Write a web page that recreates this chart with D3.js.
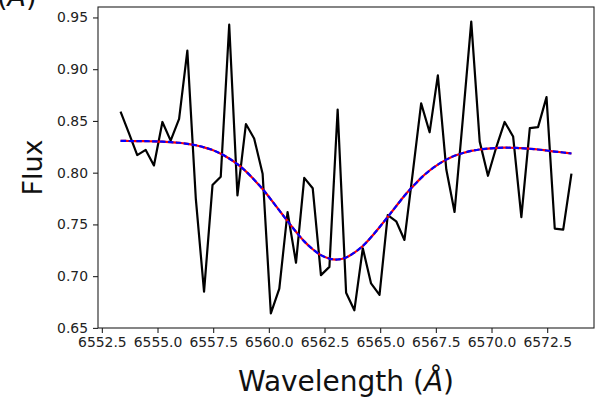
<!DOCTYPE html>
<html>
<head>
<meta charset="utf-8">
<script src="https://cdn.jsdelivr.net/npm/d3@7"></script>
<style>
  body { margin: 0; background: #fff; }
  svg { display: block; font-family: "DejaVu Sans", sans-serif; }
</style>
</head>
<body>
<div id="chart"></div>
<script>
var wavelength = [6553.34, 6553.72, 6554.09, 6554.47, 6554.84, 6555.22, 6555.59, 6555.97, 6556.34, 6556.72,
    6557.09, 6557.47, 6557.84, 6558.22, 6558.59, 6558.97, 6559.34, 6559.72, 6560.09, 6560.47,
    6560.84, 6561.22, 6561.59, 6561.97, 6562.34, 6562.72, 6563.09, 6563.47, 6563.84, 6564.22,
    6564.59, 6564.97, 6565.34, 6565.72, 6566.09, 6566.47, 6566.84, 6567.22, 6567.59, 6567.97,
    6568.34, 6568.72, 6569.09, 6569.47, 6569.84, 6570.22, 6570.59, 6570.97, 6571.34, 6571.72,
    6572.09, 6572.47, 6572.84, 6573.22, 6573.59];

var flux = [0.859, 0.838, 0.817, 0.822, 0.807, 0.849, 0.831, 0.852, 0.918, 0.775,
    0.685, 0.788, 0.796, 0.943, 0.778, 0.847, 0.833, 0.799, 0.664, 0.688,
    0.762, 0.713, 0.795, 0.785, 0.701, 0.709, 0.861, 0.684, 0.667, 0.727,
    0.693, 0.682, 0.759, 0.753, 0.735, 0.801, 0.867, 0.839, 0.894, 0.803,
    0.762, 0.854, 0.946, 0.830, 0.797, 0.825, 0.849, 0.835, 0.757, 0.843,
    0.844, 0.873, 0.746, 0.745, 0.799];

// fitted profile at the same wavelengths
var fitFlux = [0.8307, 0.8306, 0.8305, 0.8304, 0.8303, 0.8300, 0.8295, 0.8289, 0.8279, 0.8265,
    0.8245, 0.8219, 0.8183, 0.8137, 0.8082, 0.8013, 0.7931, 0.7842, 0.7742, 0.7635,
    0.7532, 0.7429, 0.7336, 0.7260, 0.7203, 0.7170, 0.7161, 0.7181, 0.7227, 0.7292,
    0.7376, 0.7473, 0.7573, 0.7677, 0.7777, 0.7867, 0.7950, 0.8021, 0.8078, 0.8126,
    0.8163, 0.8190, 0.8210, 0.8224, 0.8233, 0.8238, 0.8242, 0.8240, 0.8237, 0.8231,
    0.8224, 0.8214, 0.8204, 0.8195, 0.8185];

var xTicks = [6552.5, 6555.0, 6557.5, 6560.0, 6562.5, 6565.0, 6567.5, 6570.0, 6572.5];
var yTicks = [0.65, 0.70, 0.75, 0.80, 0.85, 0.90, 0.95];

var w = 596, h = 401;
var margin = {top: 7, right: 2, bottom: 73, left: 98};
var width = w - margin.left - margin.right,
    height = h - margin.top - margin.bottom;

var svg = d3.select("#chart").append("svg")
    .attr("width", w)
    .attr("height", h);

// matplotlib style autoscale: 5% padding on each side
function padded(ext) {
    var d = ext[1] - ext[0];
    return [ext[0] - 0.05 * d, ext[1] + 0.05 * d];
}

var x = d3.scaleLinear()
    .domain(padded(d3.extent(wavelength)))
    .range([0, width]);

var y = d3.scaleLinear()
    .domain(padded([d3.min(flux), d3.max(flux)]))
    .range([height, 0]);

var main = svg.append("g")
    .attr("transform", "translate(" + margin.left + "," + margin.top + ")");

main.append("clipPath").attr("id", "plotclip")
    .append("rect").attr("width", width).attr("height", height);

var pts = wavelength.map(function(d, i) { return {w: d, f: flux[i], m: fitFlux[i]}; });

var dataLine = d3.line()
    .x(function(d) { return x(d.w); })
    .y(function(d) { return y(d.f); });

var fitLine = d3.line()
    .curve(d3.curveCatmullRom)
    .x(function(d) { return x(d.w); })
    .y(function(d) { return y(d.m); });

var plot = main.append("g").attr("clip-path", "url(#plotclip)");

// spectrum
plot.append("path")
    .datum(pts)
    .attr("d", dataLine)
    .style("fill", "none")
    .style("stroke", "black")
    .style("stroke-width", 2.2)
    .style("stroke-linejoin", "round");

// fit: red under, blue dashed on top
plot.append("path")
    .datum(pts)
    .attr("d", fitLine)
    .style("fill", "none")
    .style("stroke", "red")
    .style("stroke-width", 2.2);

plot.append("path")
    .datum(pts)
    .attr("d", fitLine)
    .style("fill", "none")
    .style("stroke", "blue")
    .style("stroke-width", 2.2)
    .style("stroke-dasharray", "5.5,2.4");

// axes
var xAxis = d3.axisBottom(x)
    .tickValues(xTicks)
    .tickSize(5)
    .tickPadding(4)
    .tickFormat(d3.format(".1f"));

var yAxis = d3.axisLeft(y)
    .tickValues(yTicks)
    .tickSize(5)
    .tickPadding(5)
    .tickFormat(d3.format(".2f"));

var gx = main.append("g")
    .attr("transform", "translate(0," + height + ")")
    .call(xAxis);

var gy = main.append("g")
    .call(yAxis);

[gx, gy].forEach(function(g) {
    g.select(".domain").remove();
    g.selectAll("line").style("stroke", "#222").style("stroke-width", 1.1);
    g.selectAll("text").style("font-size", "13.9px").style("fill", "#222")
        .style("font-family", "DejaVu Sans");
});

// frame
main.append("rect")
    .attr("width", width)
    .attr("height", height)
    .style("fill", "none")
    .style("stroke", "#222")
    .style("stroke-width", 1.1);

// axis labels
svg.append("text")
    .attr("x", margin.left + width / 2)
    .attr("y", 391)
    .style("text-anchor", "middle")
    .style("font-size", "28px")
    .style("fill", "#111")
    .html("Wavelength (<tspan font-style='italic'>Å</tspan>)");

svg.append("text")
    .attr("transform", "translate(42," + (margin.top + height / 2) + ") rotate(-90)")
    .style("text-anchor", "middle")
    .style("font-size", "27px")
    .style("fill", "#111")
    .text("Flux");

// cut-off label at the top left
svg.append("text")
    .attr("x", -3)
    .attr("y", 6)
    .style("font-size", "27px")
    .style("fill", "#111")
    .html("(<tspan font-style='italic'>Å</tspan>)");
</script>
</body>
</html>
